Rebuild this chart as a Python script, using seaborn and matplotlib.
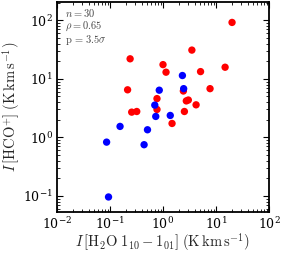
import matplotlib
matplotlib.use("Agg")
import matplotlib.pyplot as plt
import seaborn as sns
import pandas as pd

sns.set_style("ticks")
plt.rcParams['mathtext.fontset'] = 'cm'
plt.rcParams['font.family'] = ['DejaVu Serif']

red_x = [20, 3.5, 0.24, 1.0, 1.14, 5.1, 14.8, 0.215, 7.7, 2.42, 0.77, 2.75, 3.0, 4.2, 0.77, 0.257, 0.32, 2.53, 1.48]
red_y = [92, 31, 22, 17.5, 13, 13.3, 15.8, 6.5, 6.8, 6.2, 4.6, 4.2, 4.35, 3.6, 3.0, 2.7, 2.77, 2.77, 1.73]
blue_x = [2.32, 2.45, 0.85, 0.70, 0.73, 1.37, 0.155, 0.51, 0.0865, 0.44, 0.094]
blue_y = [11.4, 6.8, 6.4, 3.56, 2.28, 2.37, 1.54, 1.35, 0.83, 0.75, 0.096]
group = ["red"] * len(red_x) + ["blue"] * len(blue_x)

df = pd.DataFrame({"x": red_x + blue_x, "y": red_y + blue_y, "g": group})

fig = plt.figure(figsize=(2.83, 2.58), dpi=100)
ax = fig.add_axes([0.201, 0.178, 0.750, 0.814])
sns.scatterplot(data=df, x="x", y="y", hue="g", palette={"red": "#ff0000", "blue": "#0000ff"},
                s=28, linewidth=0, legend=False, ax=ax, zorder=3)
ax.set_xscale("log")
ax.set_yscale("log")
ax.set_xlim(1e-2, 1e2)
ax.set_ylim(0.053, 205)
ax.tick_params(which="both", direction="in", top=True, right=True, labelsize=9, colors="black", pad=3)
ax.tick_params(which="major", length=4, width=0.8)
ax.tick_params(which="minor", length=2, width=0.6)
for sp in ax.spines.values():
    sp.set_linewidth(1.3)
    sp.set_color("black")
ax.set_xlabel(r'$I\,[\mathrm{H_2O}\;1_{10}-1_{01}]\;(\mathrm{K\,km\,s^{-1}})$', fontsize=10.5, labelpad=0)
ax.set_ylabel(r'$I\,[\mathrm{HCO^{+}}]\;(\mathrm{K\,km\,s^{-1}})$', fontsize=10.5, labelpad=0)
ax.text(0.04, 0.975, r'$n = 30$' + '\n' + r'$\rho = 0.65$' + '\n' + r'$\mathrm{p}\,=\,3.5\sigma$',
        transform=ax.transAxes, ha="left", va="top", fontsize=7.5, color="#444444", linespacing=1.0)
fig.savefig("out.png", dpi=100)
